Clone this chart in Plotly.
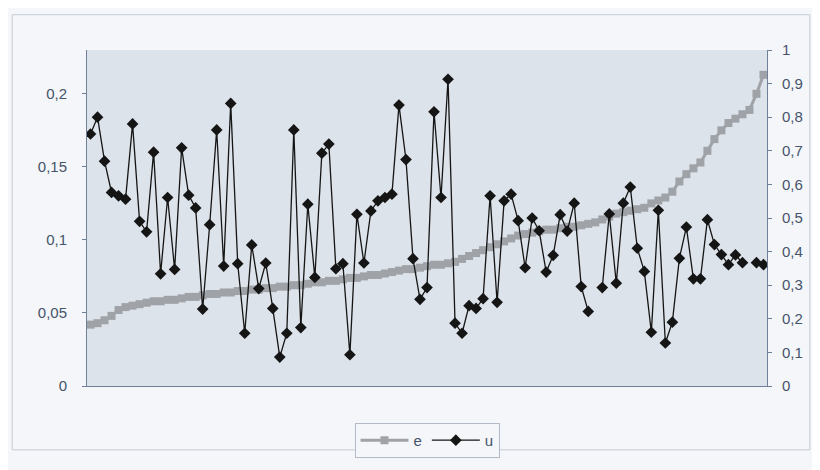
import plotly.graph_objects as go

# Values (97 categories; u has two blank cells)
e_vals = [0.042, 0.043, 0.045, 0.048, 0.052, 0.054, 0.055, 0.056, 0.057, 0.058,
          0.058, 0.059, 0.059, 0.060, 0.061, 0.061, 0.062, 0.063, 0.063, 0.064,
          0.064, 0.065, 0.065, 0.066, 0.066, 0.067, 0.067, 0.068, 0.068, 0.069,
          0.069, 0.070, 0.071, 0.071, 0.072, 0.072, 0.073, 0.074, 0.074, 0.075,
          0.076, 0.076, 0.077, 0.078, 0.079, 0.080, 0.080, 0.081, 0.082, 0.083,
          0.083, 0.084, 0.085, 0.087, 0.089, 0.091, 0.093, 0.095, 0.097, 0.099,
          0.101, 0.103, 0.104, 0.105, 0.106, 0.107, 0.107, 0.108, 0.109, 0.109,
          0.110, 0.111, 0.112, 0.114, 0.116, 0.118, 0.119, 0.120, 0.121, 0.122,
          0.125, 0.127, 0.129, 0.133, 0.140, 0.145, 0.149, 0.153, 0.161, 0.169,
          0.175, 0.180, 0.183, 0.186, 0.189, 0.200, 0.213]

u_vals = [0.750, 0.800, 0.669, 0.576, 0.566, 0.556, 0.780, 0.490, 0.459, 0.696,
          0.334, 0.561, 0.347, 0.709, 0.568, 0.530, 0.229, 0.480, 0.762, 0.357,
          0.841, 0.364, 0.157, 0.420, 0.290, 0.366, 0.231, 0.086, 0.157, 0.762,
          0.174, 0.541, 0.323, 0.693, 0.720, 0.349, 0.364, 0.093, 0.511, 0.366,
          0.521, 0.551, 0.561, 0.571, 0.836, 0.674, 0.379, 0.258, 0.293, 0.816,
          0.561, 0.913, 0.187, 0.157, 0.239, 0.231, 0.260, 0.566, 0.249, 0.551,
          0.571, 0.492, 0.352, 0.500, 0.462, 0.339, 0.389, 0.510, 0.461, 0.544,
          0.296, 0.222, None, 0.293, 0.512, 0.306, 0.544, 0.592, 0.410, 0.341,
          0.160, 0.523, 0.128, 0.190, 0.380, 0.473, 0.319, 0.319, 0.495, 0.421,
          0.391, 0.361, 0.390, 0.367, None, 0.367, 0.361]

categories = list(range(1, len(e_vals) + 1))

left_ticks = [0, 0.05, 0.1, 0.15, 0.2]
left_labels = ["0", "0,05", "0,1", "0,15", "0,2"]
right_ticks = [0, 0.1, 0.2, 0.3, 0.4, 0.5, 0.6, 0.7, 0.8, 0.9, 1]
right_labels = ["0", "0,1", "0,2", "0,3", "0,4", "0,5", "0,6", "0,7", "0,8", "0,9", "1"]

axis_col = "#6f7f98"
text_col = "#46546a"

fig = go.Figure()
fig.add_trace(go.Scatter(
    x=categories, y=e_vals, name="e", mode="lines+markers",
    line=dict(color="#9fa3a8", width=3),
    marker=dict(symbol="square", size=8, color="#9fa3a8"),
    yaxis="y"))
fig.add_trace(go.Scatter(
    x=categories, y=u_vals, name="u", mode="lines+markers",
    line=dict(color="#151515", width=1.3),
    marker=dict(symbol="diamond", size=9, color="#151515"),
    connectgaps=False, yaxis="y2"))

fig.update_layout(
    width=812, height=462,
    margin=dict(l=79, r=53, t=42, b=78),
    paper_bgcolor="#f4f6f9",
    plot_bgcolor="#dde3ea",
    font=dict(family="Liberation Sans, Arial", size=15, color=text_col),
    showlegend=True,
    legend=dict(orientation="h", x=0.5, xanchor="center", y=-0.11, yanchor="top",
                bordercolor="#b3bbc6", borderwidth=1, bgcolor="#f4f6f9",
                font=dict(size=15, color=text_col), itemwidth=48,
                tracegroupgap=0),
    xaxis=dict(range=[0.5, len(e_vals) + 0.5], showticklabels=False, ticks="",
               showgrid=False, zeroline=False, showline=True, linecolor=axis_col,
               linewidth=1, mirror=False),
    yaxis=dict(range=[0, 0.23], tickvals=left_ticks, ticktext=left_labels,
               ticks="outside", ticklen=4, tickcolor=axis_col,
               showgrid=False, zeroline=False, showline=True, linecolor=axis_col,
               linewidth=1, ticklabelstandoff=12),
    yaxis2=dict(range=[0, 1], tickvals=right_ticks, ticktext=right_labels,
                overlaying="y", side="right", ticks="outside", ticklen=4,
                tickcolor=axis_col, showgrid=False, zeroline=False, showline=True,
                linecolor=axis_col, linewidth=1, ticklabelstandoff=7),
    shapes=[dict(type="rect", xref="paper", yref="paper",
                 x0=-0.110, x1=1.063, y0=-0.19, y1=1.105,
                 line=dict(color="#c5ccd6", width=1), layer="below")],
)

fig.write_html("out.html")
